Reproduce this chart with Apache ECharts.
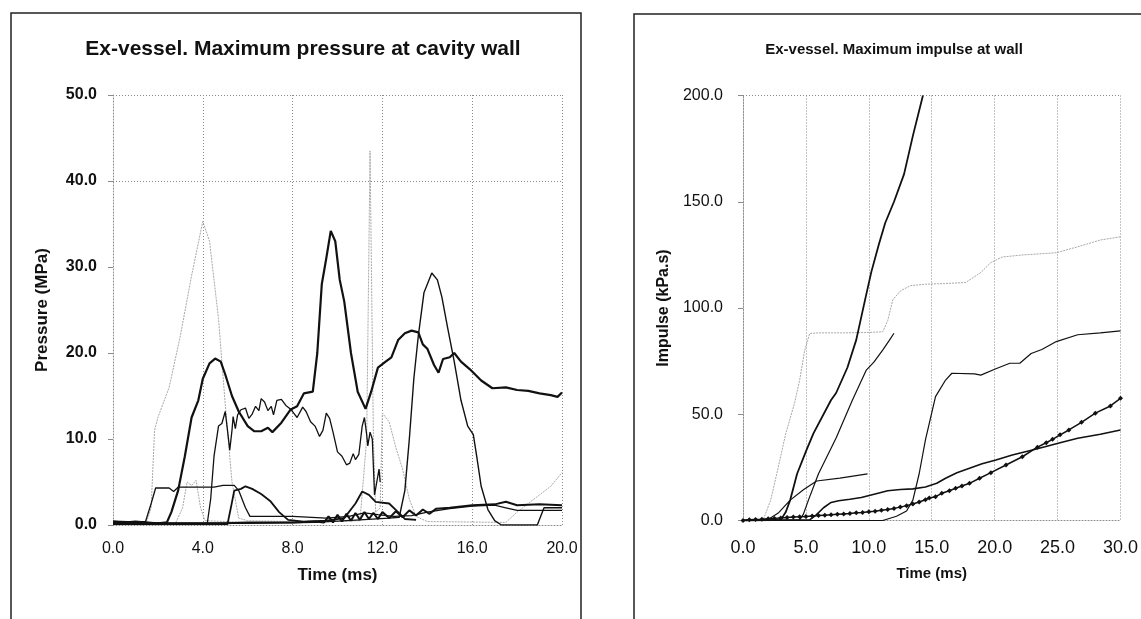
<!DOCTYPE html>
<html>
<head>
<meta charset="utf-8">
<script src="https://cdn.jsdelivr.net/npm/echarts@6/dist/echarts.min.js"></script>
<style>
  html, body { margin: 0; padding: 0; background: #fff; }
  #main { width: 1141px; height: 619px; }
</style>
</head>
<body>
<div id="main"></div>
<script>
// ---- left chart: maximum pressure at cavity wall (time ms, pressure MPa)
const pressureTicks = [0, 4, 8, 12, 16, 20];
const pGrayPeak = [[0,0.4],[1.5,0.4],[1.7,2],[1.85,11],[2.0,12.5],[2.5,16],[3.0,22],[3.5,29],[4.0,35.3],[4.3,33],[4.7,24],[5.0,14],[5.3,5],[5.6,0.8],[6,0.5],[8,0.4],[10,0.4],[11.0,0.5],[11.3,10],[11.45,43.5],[11.6,10],[11.7,1.5],[11.9,2],[12.0,13],[12.3,12],[12.6,9],[12.9,6.5],[13.2,3],[13.5,1],[14,0.4],[17.5,0.3],[18,1.5],[18.5,2.5],[19,3.5],[19.5,4.5],[20,6.1]];
const pGraySmall = [[2.8,0.3],[3.1,2],[3.3,5],[3.5,4.6],[3.7,5.2],[3.9,2],[4.1,0.5],[6,0.3]];
const pThick = [[0,0.4],[1.0,0.3],[2.0,0.2],[2.4,0.3],[2.6,1.5],[2.9,4],[3.2,8],[3.5,12.5],[3.8,14.5],[4.0,17],[4.3,18.8],[4.55,19.35],[4.8,19],[5.0,17.5],[5.3,15],[5.6,13.2],[6.0,11.5],[6.3,10.9],[6.6,10.9],[6.9,11.3],[7.1,10.8],[7.5,11.9],[7.9,13.4],[8.2,13.8],[8.5,15.3],[8.9,15.5],[9.1,20],[9.3,28],[9.5,31],[9.7,34.2],[9.9,33],[10.1,28.5],[10.3,26],[10.6,20],[10.9,15.5],[11.25,13.5],[11.5,15.5],[11.8,18.3],[12.1,18.9],[12.4,19.5],[12.7,21.5],[13.0,22.3],[13.3,22.6],[13.6,22.4],[13.8,21],[14.0,20.5],[14.3,18.6],[14.5,17.7],[14.7,19.3],[15.0,19.5],[15.2,20],[15.5,19],[15.9,18.1],[16.4,16.8],[16.9,15.9],[17.5,16],[18.0,15.7],[18.5,15.6],[19.0,15.3],[19.5,15.1],[19.8,14.9],[20,15.4]];
const pJagged = [[4.2,0.2],[4.35,3],[4.5,8],[4.7,11.5],[4.85,11.8],[5.0,13.2],[5.1,11],[5.2,8.7],[5.3,11],[5.35,12.6],[5.45,11.2],[5.55,12.8],[5.7,13.4],[5.9,13.6],[6.05,12.4],[6.2,12.9],[6.35,13.8],[6.5,13.3],[6.6,14.7],[6.75,14.3],[6.9,13.3],[7.05,13.8],[7.15,12.8],[7.3,14.5],[7.5,14.6],[7.7,13.9],[7.9,13.5],[8.05,13.0],[8.2,12.5],[8.45,13.7],[8.6,13.2],[8.8,12.0],[9.0,11.5],[9.2,10.3],[9.35,11],[9.5,13.0],[9.65,12.4],[9.8,10.8],[10.0,8.5],[10.2,8.0],[10.4,7.0],[10.55,7.2],[10.7,8.3],[10.8,7.6],[10.95,8.2],[11.1,11.5],[11.2,12.5],[11.3,10.5],[11.35,9.2],[11.45,10.8],[11.55,10.0],[11.65,3.5],[11.75,5.0],[11.85,6.5],[11.9,5.0]];
const pPlateau = [[0,0.4],[1.45,0.4],[1.7,2.5],[1.9,4.3],[2.5,4.3],[2.7,3.9],[2.9,4.4],[4.5,4.4],[4.9,4.6],[5.4,4.6],[5.6,4.0],[5.9,2],[6.1,1.0],[8,1.0],[9.5,0.8],[10.5,1.0],[11.2,1.4],[11.8,1.2],[12.5,1.0],[13.3,1.1],[14.0,1.5],[15,1.9],[16,2.2],[17,2.3],[17.5,2.0],[18,1.7],[20,1.7]];
const pBump = [[0,0.1],[5.1,0.1],[5.25,2],[5.4,4.0],[5.7,4.2],[5.9,4.5],[6.2,4.2],[6.6,3.6],[7.0,2.8],[7.4,1.5],[7.8,0.6],[8.5,0.4],[9.5,0.5],[10.3,0.8],[10.8,2.5],[11.1,3.9],[11.4,3.5],[11.7,2.7],[12.3,2.5],[12.7,1.5],[13.0,0.7],[13.5,0.6]];
const pLatePeak = [[0,0.2],[6,0.2],[9,0.3],[11,0.6],[12.3,0.8],[12.75,0.9],[13.0,4],[13.2,10],[13.4,17],[13.6,22],[13.85,27],[14.2,29.3],[14.45,28.5],[14.65,26.5],[14.9,23],[15.2,19],[15.5,14.5],[15.8,11.5],[16.05,10.5],[16.2,8],[16.4,4.5],[16.7,1.8],[17.0,0.5],[17.3,0],[18.9,0],[19.2,2.0],[20,2.0]];
const pLow = [[0,0.4],[0.5,0.3],[1,0.4],[1.5,0.3],[2,0.2],[3,0.2],[4,0.2],[5,0.2],[6,0.3],[7,0.3],[8,0.3],[9,0.4],[9.4,0.3],[9.6,1],[9.8,0.3],[10.0,1.2],[10.2,0.4],[10.4,1.3],[10.6,0.5],[10.8,1.4],[11.0,0.6],[11.2,1.5],[11.4,0.7],[11.6,1.4],[11.8,0.7],[12.0,1.5],[12.3,0.8],[12.6,1.6],[12.9,0.9],[13.2,1.7],[13.5,1.1],[13.8,1.8],[14.1,1.3],[14.4,1.9],[15,2.0],[16,2.3],[17,2.4],[17.5,2.7],[18,2.3],[19,2.4],[20,2.3]];

// ---- right chart: maximum impulse at wall (time ms, impulse kPa.s)
const impulseTicks = [0, 5, 10, 15, 20, 25, 30];
const iSteep = [[0,0],[3.0,0.3],[3.4,4],[3.75,9.6],[4.3,22],[5.05,33.2],[5.6,41],[7.0,56.7],[7.4,60],[8.3,72],[9.0,85],[9.7,103.8],[10.2,117],[10.8,130],[11.3,140],[12.0,150],[12.8,163],[13.5,181],[14.3,200]];
const iSecond = [[0,0],[4.5,0.3],[4.8,3],[5.2,9.6],[6.0,22],[7.4,38.8],[8.7,56.7],[9.8,70.8],[10.4,74.5],[11.1,80.2],[11.6,84.5],[12.0,88.1]];
const iGray = [[0,0],[1.6,0.3],[2.2,9.6],[2.8,25],[3.4,41],[4.1,55.3],[4.5,66],[4.9,80],[5.3,88],[6,88.3],[8,88.3],[10,88.5],[11.1,88.8],[11.5,94],[11.9,103.8],[12.5,108],[13.3,110.5],[14.5,111.2],[16,111.5],[17.7,112],[18.9,116.7],[19.7,121.4],[20.6,124],[22.3,125],[24.9,126],[26.6,128.8],[28.4,132],[30,133.5]];
const iShort = [[0,0],[2.0,0.5],[2.8,3.5],[3.75,9.6],[4.8,14.5],[5.85,18.6],[7.7,19.9],[9.9,21.9]];
const iLateRise = [[0,0],[10,0],[11.1,0],[12.2,2],[13.0,4.5],[13.5,9.6],[14.0,22],[14.5,37.9],[15.3,58.3],[16.1,66.1],[16.6,69.3],[18.4,69],[18.9,68.4],[20,71.2],[21.2,74],[22,74],[22.9,78.6],[23.75,80.5],[24.9,84.2],[26.6,87.4],[28.4,88.3],[30,89.2]];
const iSmooth = [[0,0],[5.3,0.3],[5.8,2.5],[6.4,6],[7.0,8.5],[7.6,9.3],[8.5,10],[9.4,10.8],[10.5,12.5],[11.5,14],[12.5,14.6],[13.5,14.9],[14.5,15.8],[15.4,17.5],[16.1,19.9],[17,22.5],[18.0,24.6],[19.0,26.7],[20.1,28.5],[21.4,30.8],[23.0,33.2],[24.0,34.7],[25.2,36.6],[26.6,38.7],[28.4,40.6],[30,42.6]];
const iMarked = [[0,0],[0.5,0.3],[1,0.5],[1.5,0.6],[2,0.8],[2.5,1.0],[3,1.2],[3.5,1.4],[4,1.6],[4.5,1.8],[5,1.9],[5.5,2.1],[6,2.3],[6.5,2.5],[7,2.7],[7.5,2.9],[8,3.1],[8.5,3.3],[9,3.6],[9.5,3.8],[10,4.1],[10.5,4.4],[11,4.8],[11.5,5.2],[12,5.7],[12.5,6.3],[13,7.0],[13.5,7.8],[14,8.7],[14.5,9.8],[14.8,10.6],[15.3,11.2],[15.8,12.8],[16.4,14.0],[16.9,15.2],[17.4,16.2],[18.0,17.5],[18.8,19.9],[19.7,22.5],[20.9,26.1],[22.2,30],[23.4,34.5],[24.1,36.6],[24.6,38.2],[25.2,40.3],[25.9,42.6],[26.9,46.2],[28.0,50.5],[29.2,53.9],[30,57.5]];

const FONT = "'Liberation Sans', Arial, sans-serif";
const INK = '#111';
const GRID = '#8a8a8a';
const LIGHT = '#a8a8a8';
const HIDE = 'rgba(0,0,0,0)';

function line(data, xi, color, width, extra) {
  return Object.assign({
    type: 'line', xAxisIndex: xi, yAxisIndex: xi, data: data,
    showSymbol: false, symbol: 'none', animation: false,
    lineStyle: { color: color, width: width }
  }, extra || {});
}
function grayLine(data, xi) {
  return line(data, xi, LIGHT, 1, { lineStyle: { color: LIGHT, width: 1, type: [2, 1] } });
}

var chart = echarts.init(document.getElementById('main'));
var option = {
  backgroundColor: '#fff',
  animation: false,
  title: [
    { text: 'Ex-vessel. Maximum pressure at cavity wall', left: 298, top: 34, textAlign: 'center',
      textStyle: { fontFamily: FONT, fontSize: 21, fontWeight: 'bold', color: INK } },
    { text: 'Ex-vessel. Maximum impulse at wall', left: 889, top: 37, textAlign: 'center',
      textStyle: { fontFamily: FONT, fontSize: 15, fontWeight: 'bold', color: INK } }
  ],
  grid: [
    { left: 113, right: 579, top: 95, bottom: 94 },
    { left: 743, right: 19, top: 95.5, bottom: 98.5 }
  ],
  xAxis: [
    { type: 'value', gridIndex: 0, min: 0, max: 20, interval: 4,
      name: 'Time (ms)', nameLocation: 'middle', nameGap: 42,
      nameTextStyle: { fontFamily: FONT, fontSize: 17, fontWeight: 'bold', color: INK },
      axisLine: { lineStyle: { color: GRID, type: [1, 2] } },
      axisTick: { show: false },
      axisLabel: { margin: 16, fontFamily: FONT, fontSize: 16, color: INK,
        formatter: function (v) { return pressureTicks.indexOf(v) >= 0 ? v.toFixed(1) : ''; } },
      splitLine: { show: true, lineStyle: { color: GRID, type: [1, 2], width: 1 } } },
    { type: 'value', gridIndex: 1, min: 0, max: 30, interval: 5,
      name: 'Time (ms)', nameLocation: 'middle', nameGap: 46,
      nameTextStyle: { fontFamily: FONT, fontSize: 15, fontWeight: 'bold', color: INK },
      axisLine: { lineStyle: { color: GRID, type: [1, 2] } },
      axisTick: { show: false },
      axisLabel: { margin: 19, fontFamily: FONT, fontSize: 18, color: INK,
        formatter: function (v) { return impulseTicks.indexOf(v) >= 0 ? v.toFixed(1) : ''; } },
      splitLine: { show: true, lineStyle: { color: GRID, type: [1, 2], width: 1 } } }
  ],
  yAxis: [
    { type: 'value', gridIndex: 0, min: 0, max: 50, interval: 10,
      name: 'Pressure (MPa)', nameLocation: 'middle', nameGap: 62,
      nameTextStyle: { fontFamily: FONT, fontSize: 17, fontWeight: 'bold', color: INK },
      axisLine: { show: true, lineStyle: { color: GRID, type: [1, 2] } },
      axisTick: { show: true, length: 5, lineStyle: { color: GRID } },
      axisLabel: { margin: 16, fontFamily: FONT, fontSize: 16, fontWeight: 'bold', color: INK,
        formatter: function (v) { return v.toFixed(1); } },
      splitLine: { show: true, lineStyle: { color: [GRID, HIDE, HIDE, HIDE, GRID, GRID], type: [1, 2], width: 1 } } },
    { type: 'value', gridIndex: 1, min: 0, max: 200, interval: 50,
      name: 'Impulse (kPa.s)', nameLocation: 'middle', nameGap: 71,
      nameTextStyle: { fontFamily: FONT, fontSize: 16, fontWeight: 'bold', color: INK },
      axisLine: { show: true, lineStyle: { color: GRID, type: [1, 2] } },
      axisTick: { show: true, length: 5, lineStyle: { color: GRID } },
      axisLabel: { margin: 20, fontFamily: FONT, fontSize: 16, color: INK,
        formatter: function (v) { return v.toFixed(1); } },
      splitLine: { show: true, lineStyle: { color: [GRID, HIDE, HIDE, HIDE, GRID], type: [1, 2], width: 1 } } }
  ],
  series: [
    grayLine(pGrayPeak, 0),
    grayLine(pGraySmall, 0),
    line(pLow, 0, INK, 2),
    line(pPlateau, 0, INK, 1.3),
    line(pBump, 0, INK, 1.8),
    line(pLatePeak, 0, INK, 1.4),
    line(pJagged, 0, INK, 1.3),
    line(pThick, 0, INK, 2.2),

    grayLine(iGray, 1),
    line(iLateRise, 1, INK, 1.2),
    line(iSmooth, 1, INK, 1.6),
    line(iShort, 1, INK, 1.2),
    line(iSecond, 1, INK, 1.2),
    line(iSteep, 1, INK, 1.8),
    line(iMarked, 1, INK, 1.5, { showSymbol: true, symbol: 'diamond', symbolSize: 5,
      itemStyle: { color: INK } })
  ],
  graphic: [
    { type: 'rect', shape: { x: 11, y: 13, width: 570, height: 700 },
      style: { fill: 'none', stroke: '#222', lineWidth: 1.5 } },
    { type: 'rect', shape: { x: 634, y: 14, width: 700, height: 700 },
      style: { fill: 'none', stroke: '#222', lineWidth: 1.5 } }
  ]
};
option && chart.setOption(option);
</script>
</body>
</html>
